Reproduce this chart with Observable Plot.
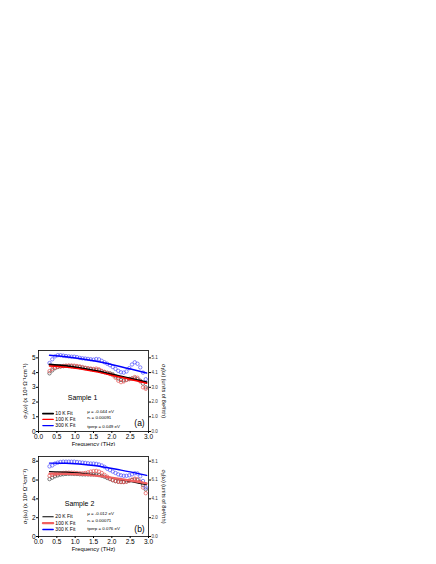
<!DOCTYPE html>
<html><head><meta charset="utf-8">
<script src="https://cdn.jsdelivr.net/npm/d3@7"></script>
<script src="https://cdn.jsdelivr.net/npm/@observablehq/plot@0.6"></script>
<style>
body{margin:0;background:#fff;width:436px;height:564px;position:relative;overflow:hidden;font-family:"Liberation Sans",Arial,sans-serif}
.panel{position:absolute;left:0}
</style></head><body>
<div id="a" class="panel" style="top:340px"></div>
<div id="b" class="panel" style="top:446px"></div>
<script>
// ---------- data ----------
const freq = [0.30,0.375,0.45,0.525,0.60,0.675,0.75,0.825,0.90,0.975,1.05,1.125,1.20,1.275,1.35,1.425,1.50,1.575,1.65,1.725,1.80,1.875,1.95,2.025,2.10,2.175,2.25,2.325,2.40,2.475,2.55,2.625,2.70,2.775,2.85,2.925];

// Sample 1 measured data
const a10  = [3.95,4.15,4.30,4.38,4.42,4.44,4.45,4.45,4.44,4.42,4.40,4.37,4.33,4.30,4.27,4.24,4.20,4.18,4.15,4.08,4.03,3.98,3.95,3.88,3.75,3.60,3.50,3.48,3.52,3.57,3.60,3.60,3.55,3.45,3.25,3.00];
const a100 = [4.10,4.25,4.35,4.40,4.42,4.45,4.47,4.48,4.48,4.47,4.45,4.42,4.38,4.33,4.30,4.27,4.25,4.27,4.22,4.12,4.05,3.98,3.90,3.82,3.65,3.45,3.35,3.40,3.50,3.55,3.60,3.70,3.65,3.40,3.00,2.90];
const a300 = [4.65,4.90,5.10,5.18,5.18,5.15,5.12,5.10,5.08,5.08,5.05,5.00,4.97,4.95,4.93,4.90,4.88,4.92,4.90,4.80,4.70,4.60,4.50,4.38,4.25,4.12,4.02,4.00,4.08,4.30,4.55,4.70,4.60,4.35,4.00,3.55];

// Sample 2 measured data
const b20  = [6.10,6.25,6.40,6.50,6.57,6.62,6.65,6.66,6.66,6.65,6.64,6.62,6.60,6.60,6.60,6.60,6.60,6.58,6.52,6.45,6.35,6.22,6.10,5.98,5.88,5.82,5.80,5.80,5.85,5.92,6.00,6.05,6.00,5.80,5.45,5.00];
const b100 = [6.45,6.55,6.62,6.68,6.72,6.75,6.77,6.78,6.78,6.77,6.75,6.72,6.72,6.75,6.82,6.90,6.95,6.97,6.90,6.75,6.55,6.35,6.15,6.00,5.90,5.82,5.78,5.78,5.82,5.92,6.05,6.15,6.10,5.80,5.20,4.60];
const b300 = [7.45,7.55,7.75,7.85,7.92,7.95,7.95,7.95,7.95,7.95,7.92,7.88,7.85,7.82,7.78,7.75,7.75,7.72,7.65,7.55,7.40,7.20,7.05,6.90,6.75,6.60,6.50,6.45,6.45,6.50,6.60,6.72,6.70,6.40,5.90,5.20];

// fits
const fitFreq = [0.30,0.75,1.50,2.25,2.95];
const a10Fit  = [4.55,4.45,4.15,3.75,3.35];
const a100Fit = [4.45,4.37,4.08,3.68,3.27];
const a300Fit = [5.18,5.08,4.80,4.40,3.97];
const b20Fit  = [6.90,6.84,6.55,6.05,5.50];
const b100Fit = [6.68,6.66,6.48,6.10,5.65];
const b300Fit = [7.80,7.78,7.55,7.05,6.50];

// ticks & labels
const xTicks = [0,0.5,1,1.5,2,2.5,3];
const aTicks = [0,1,2,3,4,5];
const aRight = ["0.0","1.0","2.0","3.0","4.1","5.1"];
const bTicks = [0,2,4,6,8];
const bRight = ["0.0","2.0","4.1","6.1","8.1"];
const aLegend = ["10 K Fit","100 K Fit","300 K Fit"];
const bLegend = ["20 K Fit","100 K Fit","300 K Fit"];
const aParams = ["\u03bc = -0.044 eV","n\u1d62 = 0.00091","tperp = 0.049 eV"];
const bParams = ["\u03bc = -0.012 eV","n\u1d62 = 0.00071","tperp = 0.076 eV"];
const leftTitle = "\u03c3\u2081(\u03c9) (x 10\u00b3 \u03a9\u207b\u00b9cm\u207b\u00b9)";
const rightTitle = "\u03c3\u2081(\u03c9) (units of 8e\u00b2/\u03c0h)";
const xTitle = "Frequency (THz)";

const FONT = "Liberation Sans, Arial, sans-serif";

function makePanel(o) {
  const dots = [], fits = [];
  o.data.forEach((vals, k) => vals.forEach((v, i) => dots.push({f: freq[i], v, k})));
  o.fits.forEach((vals, k) => vals.forEach((v, i) => fits.push({f: fitFreq[i], v, k})));
  const legend = o.legend.map((t, i) => ({t, i, y: o.legendY[i]}));
  const legLines = legend.flatMap(d => [{x: 0.12, y: d.y, i: d.i}, {x: 0.40, y: d.y, i: d.i}]);
  const params = o.params.map((t, i) => ({t, i, y: o.paramsY[i]}));
  return Plot.plot({
    width: 170, height: o.height,
    marginLeft: 38, marginRight: 22, marginTop: 10, marginBottom: o.height - 10 - o.frameH,
    style: {fontFamily: FONT, background: "white", overflow: "visible"},
    x: {domain: [0, 3]},
    y: {domain: o.yDomain},
    marks: [
      Plot.dot(dots, {x: "f", y: "v", r: 1.7, strokeWidth: 0.7, stroke: d => o.dotColors[d.k]}),
      Plot.line(fits.filter(d => d.k === 0), {x: "f", y: "v", stroke: o.fitColors[0], strokeWidth: o.fitWidths[0], curve: "monotone-x"}),
      Plot.line(fits.filter(d => d.k === 1), {x: "f", y: "v", stroke: o.fitColors[1], strokeWidth: o.fitWidths[1], curve: "monotone-x"}),
      Plot.line(fits.filter(d => d.k === 2), {x: "f", y: "v", stroke: o.fitColors[2], strokeWidth: o.fitWidths[2], curve: "monotone-x"}),
      Plot.frame({stroke: "#000", strokeWidth: 0.8}),
      Plot.axisX({ticks: xTicks, tickFormat: d3.format(".1f"), tickSize: 2, tickPadding: 1, fontSize: 6.5, label: null}),
      Plot.axisY({ticks: o.yTicks, tickFormat: d3.format("d"), tickSize: 2, tickPadding: 1, fontSize: 6.5, label: null}),
      Plot.axisY({anchor: "right", ticks: o.yTicks, tickFormat: d => o.rightLabels[o.yTicks.indexOf(d)], tickSize: 2, tickPadding: 1, fontSize: 4.5, fill: "#333", label: null}),
      Plot.line(legLines, {x: "x", y: "y", z: "i", stroke: d => o.fitColors[d.i], strokeWidth: d => o.fitWidths[d.i]}),
      Plot.text(legend, {x: 0.46, y: "y", text: "t", textAnchor: "start", fontSize: 5, fill: "#000"}),
      Plot.text(params, {x: 1.33, y: "y", text: "t", textAnchor: "start", fontSize: 4.4, fill: "#000"}),
      Plot.text([o.sample], {frameAnchor: "top-left", dx: o.sampleX, dy: o.sampleY, textAnchor: "middle", lineAnchor: "middle", text: d => d, fontSize: 7, fill: "#000"}),
      Plot.text([o.tag], {frameAnchor: "top-left", dx: 101, dy: 73, textAnchor: "middle", lineAnchor: "middle", text: d => d, fontSize: 8.5, fill: "#000"}),
      Plot.text([leftTitle], {frameAnchor: "left", dx: -13, rotate: -90, textAnchor: "middle", lineAnchor: "middle", text: d => d, fontSize: 6, fill: "#000"}),
      Plot.text([rightTitle], {frameAnchor: "right", dx: 15, rotate: 90, textAnchor: "middle", lineAnchor: "middle", text: d => d, fontSize: 5.5, fill: "#000"}),
      Plot.text([xTitle], {frameAnchor: "bottom", dy: 13, textAnchor: "middle", lineAnchor: "middle", text: d => d, fontSize: 5.8, fill: "#000"})
    ]
  });
}

document.getElementById("a").append(makePanel({
  height: 111, frameH: 81, yDomain: [0, 5.5], yTicks: aTicks, rightLabels: aRight,
  data: [a10, a100, a300], fits: [a10Fit, a100Fit, a300Fit],
  dotColors: ["#444", "#e85050", "#5050ff"],
  fitColors: ["#000", "#ff0000", "#0000ff"], fitWidths: [1.8, 1.4, 1.4],
  legend: aLegend, legendY: [1.22, 0.82, 0.4],
  params: aParams, paramsY: [1.35, 0.93, 0.34],
  sample: "Sample 1", sampleX: 44, sampleY: 47, tag: "(a)"
}));

document.getElementById("b").append(makePanel({
  height: 110, frameH: 80, yDomain: [0, 8.5], yTicks: bTicks, rightLabels: bRight,
  data: [b20, b100, b300], fits: [b20Fit, b100Fit, b300Fit],
  dotColors: ["#444", "#e85050", "#5050ff"],
  fitColors: ["#000", "#f06060", "#0000ff"], fitWidths: [1.2, 2.2, 1.4],
  legend: bLegend, legendY: [2.1, 1.42, 0.75],
  params: bParams, paramsY: [2.42, 1.7, 0.85],
  sample: "Sample 2", sampleX: 41, sampleY: 47, tag: "(b)"
}));
</script>
</body></html>
